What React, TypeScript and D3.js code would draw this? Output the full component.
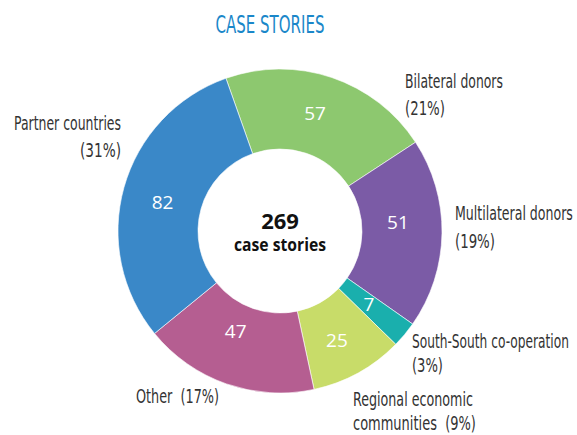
import React, { useLayoutEffect, useRef } from "react";
import * as d3 from "d3";

const categories = [
  "Bilateral donors",
  "Multilateral donors",
  "South-South co-operation",
  "Regional economic communities",
  "Other",
  "Partner countries",
];
const values = [57, 51, 7, 25, 47, 82];
const colors = ["#8dc86f", "#7b5ba6", "#1aafad", "#c8dc69", "#b55e91", "#3a88c8"];
const labelLines = [
  ["Bilateral donors", "(21%)"],
  ["Multilateral donors", "(19%)"],
  ["South-South co-operation", "(3%)"],
  ["Regional economic", "communities  (9%)"],
  ["Other  (17%)"],
  ["Partner countries", "(31%)"],
];
const title = "CASE STORIES";
const total = d3.sum(values);

// layout for outer labels (x, first baseline, anchor, line widths)
const labelLayout = [
  { x: 405, y: 88, anchor: "start", widths: [98, 40], dy: 27 },
  { x: 455, y: 220, anchor: "start", widths: [118, 40], dy: 28 },
  { x: 412, y: 348, anchor: "start", widths: [157, 31], dy: 24 },
  { x: 353, y: 406, anchor: "start", widths: [120, 123], dy: 24 },
  { x: 136, y: 403, anchor: "start", widths: [83], dy: 0 },
  { x: 121, y: 130, anchor: "end", widths: [107, 41], dy: 27 },
];
// small nudges of the in-slice value labels from the arc centroid
const valueNudge = [
  [-4, -2],
  [-4, -11],
  [-5, -5],
  [-2, 2],
  [-4, -15],
  [0, 4],
];

const W = 577;
const H = 435;
const cx = 280;
const cy = 231;
const rOuter = 162;
const rInner = 82;
const startAngle = (-19.5 * Math.PI) / 180;

const labelFont = "'Liberation Sans Narrow', 'DejaVu Sans Condensed', 'Roboto', sans-serif";

function FitText(props: {
  x: number;
  y: number;
  width: number;
  anchor: string;
  fill: string;
  font: string;
  size: number;
  weight?: string;
  children: string;
}) {
  const ref = useRef<SVGTextElement>(null);
  useLayoutEffect(() => {
    const el = ref.current;
    if (!el) return;
    const len = el.getComputedTextLength();
    const sx = len > 0 ? props.width / len : 1;
    el.setAttribute("transform", `translate(${props.x},${props.y}) scale(${sx},1)`);
  });
  return (
    <text
      ref={ref}
      x={0}
      y={0}
      transform={`translate(${props.x},${props.y})`}
      textAnchor={props.anchor as any}
      fill={props.fill}
      fontFamily={props.font}
      fontSize={props.size}
      fontWeight={props.weight || "normal"}
      style={{ whiteSpace: "pre" }}
    >
      {props.children}
    </text>
  );
}

export default function App() {
  const pie = d3
    .pie<number>()
    .sort(null)
    .value((d) => d)
    .startAngle(startAngle)
    .endAngle(startAngle + 2 * Math.PI);
  const arcs = pie(values);
  const arc = d3.arc<d3.PieArcDatum<number>>().innerRadius(rInner).outerRadius(rOuter);
  const labelArc = d3
    .arc<d3.PieArcDatum<number>>()
    .innerRadius((rInner + rOuter) / 2)
    .outerRadius((rInner + rOuter) / 2);

  return (
    <svg width={W} height={H} style={{ position: "absolute", left: 0, top: 0, background: "#fff" }}>
      <FitText x={270} y={33} width={109} anchor="middle" fill="#1a87c9" font={labelFont} size={25}>
        {title}
      </FitText>
      <g transform={`translate(${cx},${cy})`}>
        {arcs.map((a, i) => (
          <path key={categories[i]} d={arc(a) || ""} fill={colors[i]} stroke="#fff" strokeWidth={0.6} />
        ))}
        {arcs.map((a, i) => {
          const [lx, ly] = labelArc.centroid(a);
          return (
            <text
              key={"v" + i}
              x={lx + valueNudge[i][0]}
              y={ly + valueNudge[i][1]}
              dy="0.36em"
              textAnchor="middle"
              fill="#fff"
              fontFamily="'Open Sans', 'Noto Sans', sans-serif"
              fontSize={19}
            >
              {values[i]}
            </text>
          );
        })}
        <text
          x={0}
          y={-2}
          textAnchor="middle"
          fill="#111"
          fontFamily="'Open Sans', 'Noto Sans', sans-serif"
          fontWeight="bold"
          fontSize={22}
        >
          {total}
        </text>
        <FitText
          x={0}
          y={20}
          width={92}
          anchor="middle"
          fill="#111"
          font="'Open Sans', 'Noto Sans', sans-serif"
          size={17}
          weight="bold"
        >
          case stories
        </FitText>
      </g>
      {labelLines.map((lines, i) => {
        const L = labelLayout[i];
        return (
          <g key={"l" + i}>
            {lines.map((t, j) => (
              <FitText
                key={j}
                x={L.x}
                y={L.y + j * L.dy}
                width={L.widths[j]}
                anchor={L.anchor}
                fill="#333"
                font={labelFont}
                size={19}
              >
                {t}
              </FitText>
            ))}
          </g>
        );
      })}
    </svg>
  );
}
